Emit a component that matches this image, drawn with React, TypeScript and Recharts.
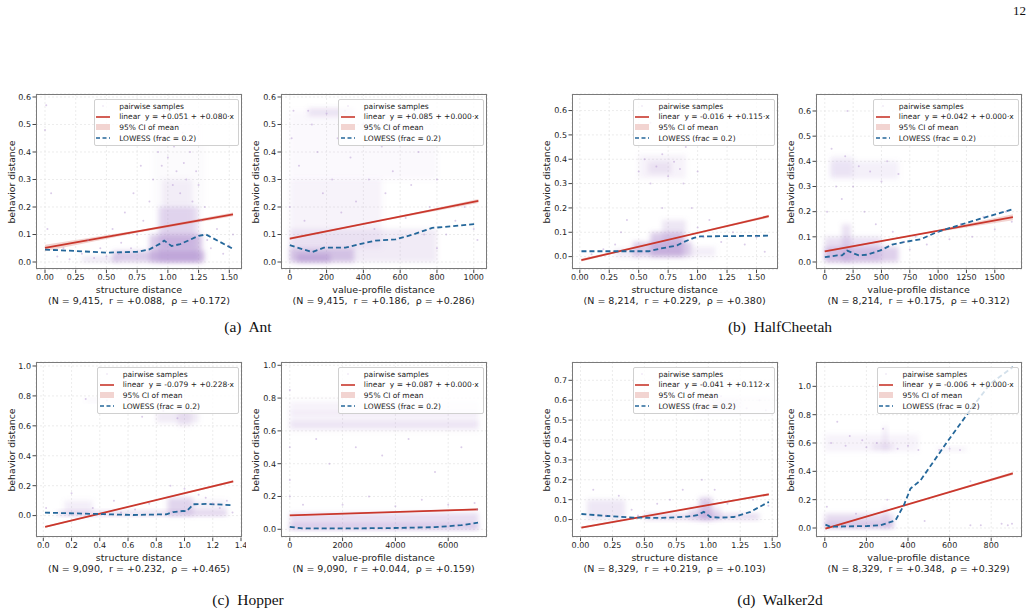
import React from 'react';
import { ComposedChart, Scatter, Line, Area, XAxis, YAxis, CartesianGrid, ReferenceArea } from 'recharts';

type Pt = [number, number];
type Band = [number, number, number];
type Blk = [number, number, number, number, number];

// ---------- (a) Ant : structure distance ----------
const antSX = [0, 0.25, 0.5, 0.75, 1.0, 1.25, 1.5];
const antSY = [0, 0.1, 0.2, 0.3, 0.4, 0.5, 0.6];
const antSFit: Pt[] = [[0, 0.051], [1.53, 0.173]];
const antSCI: Band[] = [[0, 0.039, 0.063], [0.77, 0.108, 0.116], [1.53, 0.166, 0.18]];
const antSLowess: Pt[] = [[0, 0.045], [0.25, 0.04], [0.5, 0.034], [0.75, 0.037], [0.85, 0.046], [0.93, 0.065], [0.97, 0.078], [1.03, 0.058], [1.1, 0.065], [1.25, 0.095], [1.31, 0.1], [1.53, 0.048]];
const antSDense: Blk[] = [[0.55, 1.3, 0, 0.04, 0.3], [0.85, 1.28, 0, 0.1, 0.3], [0.92, 1.25, 0, 0.2, 0.2], [0.95, 1.2, 0.05, 0.3, 0.08], [0.3, 0.6, 0, 0.02, 0.15], [0.88, 1.3, 0.2, 0.55, 0.025]];
const antSSamples: Pt[] = [[0.0, 0.48], [0.01, 0.57], [0.02, 0.12], [0.05, 0.25], [0.1, 0.02], [0.15, 0.05], [0.2, 0.01], [0.3, 0.03], [0.35, 0.08], [0.4, 0.015], [0.45, 0.05], [0.5, 0.02], [0.55, 0.12], [0.6, 0.03], [0.62, 0.07], [0.65, 0.18], [0.7, 0.05], [0.72, 0.25], [0.75, 0.1], [0.78, 0.35], [0.8, 0.15], [0.82, 0.45], [0.85, 0.22], [0.88, 0.3], [0.9, 0.52], [0.92, 0.4], [0.95, 0.35], [0.97, 0.55], [0.98, 0.45], [1.0, 0.38], [1.02, 0.5], [1.04, 0.28], [1.05, 0.42], [1.07, 0.33], [1.08, 0.55], [1.1, 0.25], [1.12, 0.47], [1.13, 0.36], [1.15, 0.3], [1.17, 0.52], [1.18, 0.4], [1.2, 0.22], [1.22, 0.45], [1.23, 0.33], [1.25, 0.28], [1.27, 0.15], [1.3, 0.2], [1.32, 0.08], [1.35, 0.05], [1.4, 0.12], [1.45, 0.03], [1.5, 0.06], [1.53, 0.1]];

// ---------- (a) Ant : value-profile distance ----------
const antVX = [0, 200, 400, 600, 800, 1000];
const antVY = [0, 0.1, 0.2, 0.3, 0.4, 0.5, 0.6];
const antVFit: Pt[] = [[0, 0.085], [1025, 0.222]];
const antVCI: Band[] = [[0, 0.081, 0.089], [510, 0.15, 0.155], [1025, 0.215, 0.229]];
const antVLowess: Pt[] = [[0, 0.061], [121, 0.036], [185, 0.052], [302, 0.052], [393, 0.067], [466, 0.078], [574, 0.082], [665, 0.099], [774, 0.124], [828, 0.127], [1018, 0.139]];
const antVDense: Blk[] = [[0, 350, 0, 0.05, 0.3], [40, 220, 0, 0.03, 0.35], [0, 800, 0, 0.12, 0.12], [0, 500, 0.05, 0.3, 0.07], [100, 350, 0.53, 0.56, 0.15], [0, 800, 0.3, 0.55, 0.035]];
const antVSamples: Pt[] = [[0, 0.2], [10, 0.45], [20, 0.55], [50, 0.35], [80, 0.15], [100, 0.55], [120, 0.5], [150, 0.4], [180, 0.25], [200, 0.54], [230, 0.3], [260, 0.45], [280, 0.18], [300, 0.55], [330, 0.38], [360, 0.22], [400, 0.5], [430, 0.3], [460, 0.12], [500, 0.42], [520, 0.25], [560, 0.33], [600, 0.5], [630, 0.16], [660, 0.28], [700, 0.4], [730, 0.1], [760, 0.2], [800, 0.05], [800, 0.3], [850, 0.1], [900, 0.15], [950, 0.2], [1000, 0.12], [1020, 0.08]];

// ---------- (b) HalfCheetah : structure distance ----------
const hcSX = [0, 0.25, 0.5, 0.75, 1.0, 1.25, 1.5];
const hcSY = [0, 0.1, 0.2, 0.3, 0.4, 0.5, 0.6];
const hcSFit: Pt[] = [[0.013, -0.0145], [1.604, 0.166]];
const hcSCI: Band[] = [[0.013, -0.02, -0.009], [0.8, 0.074, 0.078], [1.604, 0.16, 0.172]];
const hcSLowess: Pt[] = [[0.014, 0.022], [0.317, 0.022], [0.586, 0.022], [0.685, 0.033], [0.826, 0.046], [0.883, 0.06], [0.968, 0.077], [1.025, 0.083], [1.605, 0.086]];
const hcSDense: Blk[] = [[0.45, 0.95, 0, 0.06, 0.3], [0.6, 0.88, 0, 0.1, 0.3], [0.7, 0.9, 0.05, 0.15, 0.15], [0.3, 0.5, 0, 0.03, 0.15], [0.5, 0.9, 0.32, 0.42, 0.07], [0.58, 0.78, 0.34, 0.39, 0.12], [0.95, 1.15, 0, 0.04, 0.1]];
const hcSSamples: Pt[] = [[0.1, 0.01], [0.2, 0.03], [0.3, 0.05], [0.35, 0.1], [0.4, 0.15], [0.5, 0.35], [0.55, 0.4], [0.6, 0.3], [0.65, 0.37], [0.7, 0.42], [0.75, 0.33], [0.8, 0.39], [0.85, 0.36], [0.9, 0.45], [0.95, 0.2], [1.0, 0.12], [1.05, 0.08], [1.1, 0.15], [1.2, 0.06], [1.3, 0.1], [1.4, 0.05], [1.5, 0.08], [1.57, 0.02], [0.88, 0.3], [1.0, 0.35], [0.6, 0.55], [0.7, 0.2]];

// ---------- (b) HalfCheetah : value-profile distance ----------
const hcVX = [0, 250, 500, 750, 1000, 1250, 1500];
const hcVY = [0, 0.1, 0.2, 0.3, 0.4, 0.5, 0.6];
const hcVFit: Pt[] = [[0, 0.042], [1660, 0.178]];
const hcVCI: Band[] = [[0, 0.038, 0.046], [830, 0.108, 0.112], [1660, 0.166, 0.19]];
const hcVLowess: Pt[] = [[0, 0.019], [109, 0.026], [153, 0.026], [197, 0.045], [300, 0.026], [374, 0.029], [491, 0.046], [594, 0.069], [697, 0.079], [844, 0.09], [991, 0.119], [1197, 0.148], [1374, 0.172], [1653, 0.209]];
const hcVDense: Blk[] = [[0, 650, 0, 0.06, 0.28], [0, 500, 0, 0.1, 0.18], [150, 230, 0, 0.15, 0.18], [50, 650, 0.33, 0.4, 0.09], [50, 250, 0.34, 0.42, 0.09]];
const hcVSamples: Pt[] = [[20, 0.2], [60, 0.45], [100, 0.3], [150, 0.25], [180, 0.42], [200, 0.6], [250, 0.3], [300, 0.38], [350, 0.2], [400, 0.36], [450, 0.15], [500, 0.32], [550, 0.4], [600, 0.12], [650, 0.35], [700, 0.08], [750, 0.05], [800, 0.1], [900, 0.07], [1000, 0.12], [1100, 0.09], [1200, 0.15], [1300, 0.1], [1400, 0.18], [1500, 0.13], [1600, 0.2], [1650, 0.16]];

// ---------- (c) Hopper : structure distance ----------
const hoSX = [0, 0.2, 0.4, 0.6, 0.8, 1.0, 1.2, 1.4];
const hoSY = [0, 0.2, 0.4, 0.6, 0.8, 1.0];
const hoSFit: Pt[] = [[0.013, -0.076], [1.345, 0.229]];
const hoSCI: Band[] = [[0.013, -0.082, -0.07], [0.68, 0.074, 0.079], [1.345, 0.221, 0.237]];
const hoSLowess: Pt[] = [[0.012, 0.02], [0.378, 0.011], [0.637, 0.004], [0.873, 0.009], [0.92, 0.024], [0.99, 0.031], [1.015, 0.029], [1.062, 0.076], [1.157, 0.078], [1.341, 0.07]];
const hoSDense: Blk[] = [[0.1, 1.3, 0, 0.03, 0.22], [0.88, 1.06, 0, 0.12, 0.25], [0.15, 0.35, 0, 0.1, 0.1], [1.05, 1.3, 0, 0.1, 0.1], [0.8, 1.1, 0.62, 0.7, 0.12], [0.95, 1.05, 0.6, 0.72, 0.12], [0.3, 0.9, 0.76, 0.78, 0.06]];
const hoSSamples: Pt[] = [[0.02, 0.05], [0.2, 0.15], [0.3, 0.78], [0.35, 0.05], [0.45, 0.77], [0.5, 0.1], [0.6, 0.77], [0.7, 0.66], [0.75, 0.08], [0.85, 0.7], [0.9, 0.2], [0.95, 0.65], [1.0, 0.18], [1.05, 0.7], [1.1, 0.14], [1.15, 0.12], [1.2, 0.08], [1.25, 0.05], [1.3, 0.1], [1.34, 0.02], [0.55, 0.02], [0.65, 0.04]];

// ---------- (c) Hopper : value-profile distance ----------
const hoVX = [0, 2000, 4000, 6000];
const hoVY = [0, 0.2, 0.4, 0.6, 0.8, 1.0];
const hoVFit: Pt[] = [[0, 0.085], [7130, 0.121]];
const hoVCI: Band[] = [[0, 0.081, 0.089], [3560, 0.101, 0.105], [7130, 0.115, 0.127]];
const hoVLowess: Pt[] = [[0, 0.015], [500, 0.005], [2000, 0.005], [4000, 0.008], [5500, 0.013], [6500, 0.025], [7130, 0.04]];
const hoVDense: Blk[] = [[0, 7150, 0, 0.1, 0.2], [0, 7150, 0, 0.03, 0.22], [0, 7150, 0.6, 0.78, 0.07], [0, 7150, 0.62, 0.66, 0.1], [0, 7150, 0.7, 0.72, 0.07]];
const hoVSamples: Pt[] = [[0, 0.85], [0, 0.5], [0, 0.3], [0, 0.2], [500, 0.15], [1000, 0.55], [1500, 0.4], [2000, 0.15], [2500, 0.5], [3000, 0.2], [3500, 0.45], [4000, 0.14], [4500, 0.55], [5000, 0.18], [5500, 0.35], [6000, 0.15], [6500, 0.5], [7000, 0.16], [7100, 0.12]];

// ---------- (d) Walker2d : structure distance ----------
const wkSX = [0, 0.25, 0.5, 0.75, 1.0, 1.25, 1.5];
const wkSY = [0, 0.1, 0.2, 0.3, 0.4, 0.5, 0.6, 0.7];
const wkSFit: Pt[] = [[0.007, -0.04], [1.474, 0.127]];
const wkSCI: Band[] = [[0.007, -0.045, -0.035], [0.74, 0.042, 0.045], [1.474, 0.121, 0.133]];
const wkSLowess: Pt[] = [[0.007, 0.028], [0.209, 0.018], [0.417, 0.01], [0.626, 0.008], [0.835, 0.015], [0.913, 0.022], [0.965, 0.039], [1.017, 0.013], [1.096, 0.01], [1.2, 0.013], [1.33, 0.039], [1.474, 0.089]];
const wkSDense: Blk[] = [[0.05, 0.35, 0, 0.1, 0.14], [0.5, 1.4, 0, 0.03, 0.22], [0.93, 1.03, 0, 0.11, 0.3], [0.85, 1.1, 0, 0.06, 0.18], [0.9, 1.5, 0.54, 0.62, 0.07], [1.0, 1.25, 0.55, 0.6, 0.09]];
const wkSSamples: Pt[] = [[0.1, 0.15], [0.2, 0.02], [0.3, 0.12], [0.4, 0.05], [0.45, 0.02], [0.6, 0.08], [0.7, 0.1], [0.8, 0.15], [0.9, 0.6], [0.95, 0.2], [1.0, 0.56], [1.05, 0.15], [1.1, 0.62], [1.15, 0.08], [1.2, 0.58], [1.3, 0.56], [1.35, 0.1], [1.4, 0.6], [1.45, 0.55], [1.47, 0.07]];

// ---------- (d) Walker2d : value-profile distance ----------
const wkVX = [0, 200, 400, 600, 800];
const wkVY = [0, 0.2, 0.4, 0.6, 0.8, 1.0];
const wkVFit: Pt[] = [[3, -0.005], [904, 0.385]];
const wkVCI: Band[] = [[3, -0.01, 0], [450, 0.188, 0.194], [904, 0.375, 0.395]];
const wkVLowess: Pt[] = [[3, 0.024], [27, 0.009], [204, 0.014], [268, 0.019], [340, 0.054], [380, 0.16], [412, 0.278], [460, 0.336], [588, 0.607], [716, 0.866], [796, 1.019], [904, 1.136]];
const wkVDense: Blk[] = [[0, 330, 0, 0.1, 0.22], [0, 330, 0, 0.04, 0.22], [280, 300, 0, 0.15, 0.12], [0, 450, 0.54, 0.66, 0.07], [230, 330, 0.55, 0.6, 0.12], [540, 680, 0.54, 0.57, 0.08], [280, 300, 0.55, 0.72, 0.12]];
const wkVSamples: Pt[] = [[10, 0.15], [30, 0.6], [60, 0.75], [100, 0.58], [120, 0.65], [150, 0.1], [180, 0.62], [200, 0.57], [250, 0.6], [280, 0.7], [300, 0.2], [350, 0.56], [400, 0.58], [450, 0.55], [480, 0.05], [550, 0.55], [600, 0.56], [650, 0.55], [700, 0.02], [850, 0.03], [880, 0.02], [900, 0.03], [700, 0.33], [750, 0.02]];

const captions = ['(a)  Ant', '(b)  HalfCheetah', '(c)  Hopper', '(d)  Walker2d'];

const RED = '#c9372c';
const BLUE = '#24679a';
const PURPLE = '#b08fcf';
const SANS = '"DejaVu Sans", sans-serif';

interface PanelDef {
  L: number; T: number; R: number; B: number;
  xDom: [number, number]; yDom: [number, number];
  xTicks: number[]; yTicks: number[]; xDec: number; yDec: number;
  xLabel: string; stats: string; fitLabel: string;
  fit: Pt[]; ci: Band[]; lowess: Pt[]; dense: Blk[]; samples: Pt[];
}

const TOP_T = 93.7, TOP_B = 269.3, BOT_T = 361.7, BOT_B = 537.3;

const panels: PanelDef[] = [
  { L: 36, T: TOP_T, R: 242, B: TOP_B, xDom: [-0.0733, 1.6033], yDom: [-0.0276, 0.6109], xTicks: antSX, yTicks: antSY, xDec: 2, yDec: 1,
    xLabel: 'structure distance', stats: '(N = 9,415,  r = +0.088,  ρ = +0.172)', fitLabel: 'linear  y = +0.051 + +0.080·x',
    fit: antSFit, ci: antSCI, lowess: antSLowess, dense: antSDense, samples: antSSamples },
  { L: 280.5, T: TOP_T, R: 486.7, B: TOP_B, xDom: [-47.8, 1073], yDom: [-0.0276, 0.6109], xTicks: antVX, yTicks: antVY, xDec: 0, yDec: 1,
    xLabel: 'value-profile distance', stats: '(N = 9,415,  r = +0.186,  ρ = +0.286)', fitLabel: 'linear  y = +0.085 + +0.000·x',
    fit: antVFit, ci: antVCI, lowess: antVLowess, dense: antVDense, samples: antVSamples },
  { L: 571.5, T: TOP_T, R: 777.7, B: TOP_B, xDom: [-0.0662, 1.684], yDom: [-0.0533, 0.668], xTicks: hcSX, yTicks: hcSY, xDec: 2, yDec: 1,
    xLabel: 'structure distance', stats: '(N = 8,214,  r = +0.229,  ρ = +0.380)', fitLabel: 'linear  y = -0.016 + +0.115·x',
    fit: hcSFit, ci: hcSCI, lowess: hcSLowess, dense: hcSDense, samples: hcSSamples },
  { L: 815.5, T: TOP_T, R: 1021.7, B: TOP_B, xDom: [-77.6, 1741.8], yDom: [-0.0302, 0.6675], xTicks: hcVX, yTicks: hcVY, xDec: 0, yDec: 1,
    xLabel: 'value-profile distance', stats: '(N = 8,214,  r = +0.175,  ρ = +0.312)', fitLabel: 'linear  y = +0.042 + +0.000·x',
    fit: hcVFit, ci: hcVCI, lowess: hcVLowess, dense: hcVDense, samples: hcVSamples },
  { L: 36, T: BOT_T, R: 242, B: BOT_B, xDom: [-0.0517, 1.407], yDom: [-0.147, 1.0267], xTicks: hoSX, yTicks: hoSY, xDec: 1, yDec: 1,
    xLabel: 'structure distance', stats: '(N = 9,090,  r = +0.232,  ρ = +0.465)', fitLabel: 'linear  y = -0.079 + +0.228·x',
    fit: hoSFit, ci: hoSCI, lowess: hoSLowess, dense: hoSDense, samples: hoSSamples },
  { L: 280.5, T: BOT_T, R: 486.7, B: BOT_B, xDom: [-333, 7477], yDom: [-0.0506, 1.02], xTicks: hoVX, yTicks: hoVY, xDec: 0, yDec: 1,
    xLabel: 'value-profile distance', stats: '(N = 9,090,  r = +0.044,  ρ = +0.159)', fitLabel: 'linear  y = +0.087 + +0.000·x',
    fit: hoVFit, ci: hoVCI, lowess: hoVLowess, dense: hoVDense, samples: hoVSamples },
  { L: 571.5, T: BOT_T, R: 777.7, B: BOT_B, xDom: [-0.0665, 1.547], yDom: [-0.0905, 0.792], xTicks: wkSX, yTicks: wkSY, xDec: 2, yDec: 1,
    xLabel: 'structure distance', stats: '(N = 8,329,  r = +0.219,  ρ = +0.103)', fitLabel: 'linear  y = -0.041 + +0.112·x',
    fit: wkSFit, ci: wkSCI, lowess: wkSLowess, dense: wkSDense, samples: wkSSamples },
  { L: 815.5, T: BOT_T, R: 1021.7, B: BOT_B, xDom: [-42.3, 949], yDom: [-0.0677, 1.1718], xTicks: wkVX, yTicks: wkVY, xDec: 0, yDec: 1,
    xLabel: 'value-profile distance', stats: '(N = 8,329,  r = +0.348,  ρ = +0.329)', fitLabel: 'linear  y = -0.006 + +0.000·x',
    fit: wkVFit, ci: wkVCI, lowess: wkVLowess, dense: wkVDense, samples: wkVSamples },
];

const Dot = (props: any) => {
  const { cx, cy } = props;
  if (cx == null || cy == null) return null;
  return <circle cx={cx} cy={cy} r={1} fill={PURPLE} fillOpacity={0.45} />;
};

const Blob = (props: any) => {
  const { x, y, width, height, fillOpacity } = props;
  if (x == null || y == null) return null;
  return <rect x={x} y={y} width={width} height={height} fill={PURPLE} fillOpacity={fillOpacity} filter="url(#blobBlur)" />;
};

function Panel({ p }: { p: PanelDef }) {
  const padL = 32, padT = 4, padR = 4, padB = 16;
  const w = p.R - p.L, h = p.B - p.T;
  const fitData = p.fit.map(([x, y]) => ({ x, y }));
  const lowData = p.lowess.map(([x, y]) => ({ x, y }));
  const ciData = p.ci.map(([x, lo, hi]) => ({ x, band: [lo, hi] }));
  const sData = p.samples.map(([x, y]) => ({ x, y }));
  const tickStyle = { fontSize: 8, fill: '#222', fontFamily: SANS };
  return (
    <>
      <div style={{ position: 'absolute', left: p.L - padL, top: p.T - padT }}>
        <ComposedChart width={w + padL + padR} height={h + padT + padB} margin={{ top: padT, right: padR, left: 0, bottom: 0 }}>
          <CartesianGrid stroke="#e4e4e4" strokeDasharray="2 2" strokeWidth={0.7} />
          <XAxis type="number" dataKey="x" domain={p.xDom} ticks={p.xTicks} allowDataOverflow height={padB}
            tickFormatter={(v: number) => v.toFixed(p.xDec)} tick={tickStyle} tickSize={3.5} tickMargin={1}
            axisLine={false} tickLine={{ stroke: '#444' }} interval={0} />
          <YAxis type="number" domain={p.yDom} ticks={p.yTicks} allowDataOverflow width={padL}
            tickFormatter={(v: number) => v.toFixed(p.yDec)} tick={tickStyle} tickSize={3.5} tickMargin={1.5}
            axisLine={false} tickLine={{ stroke: '#444' }} interval={0} />
          {p.dense.map((d, i) => (
            <ReferenceArea key={i} x1={d[0]} x2={d[1]} y1={d[2]} y2={d[3]} fill={PURPLE} fillOpacity={Math.min(0.6, d[4] * 1.5)} stroke="none" ifOverflow="hidden" shape={<Blob />} />
          ))}
          <Scatter data={sData} dataKey="y" shape={<Dot />} isAnimationActive={false} />
          <Area data={ciData} dataKey="band" type="linear" stroke="none" fill="#e8a9a3" fillOpacity={0.5} isAnimationActive={false} dot={false} activeDot={false} />
          <Line data={fitData} dataKey="y" type="linear" stroke={RED} strokeWidth={1.8} dot={false} activeDot={false} isAnimationActive={false} />
          <Line data={lowData} dataKey="y" type="linear" stroke={BLUE} strokeWidth={1.8} strokeDasharray="5 3" dot={false} activeDot={false} isAnimationActive={false} />
        </ComposedChart>
      </div>
      <div style={{ position: 'absolute', left: p.L, top: p.T, width: w, height: h, border: '1px solid #7a7a7a', boxSizing: 'border-box', pointerEvents: 'none' }} />
      <div style={{ position: 'absolute', left: p.L - 25.5, top: (p.T + p.B) / 2, transform: 'translate(-50%, -50%) rotate(-90deg)', fontSize: 9.3, fontFamily: SANS, color: '#222', whiteSpace: 'nowrap' }}>behavior distance</div>
      <div style={{ position: 'absolute', left: (p.L + p.R) / 2, top: p.B + 19.5, transform: 'translate(-50%, -50%)', fontSize: 9.5, fontFamily: SANS, color: '#222', whiteSpace: 'nowrap' }}>{p.xLabel}</div>
      <div style={{ position: 'absolute', left: (p.L + p.R) / 2, top: p.B + 31, transform: 'translate(-50%, -50%)', fontSize: 9.5, fontFamily: SANS, color: '#222', whiteSpace: 'pre' }}>{p.stats}</div>
      <div style={{ position: 'absolute', right: 1034 - (p.R - 3), top: p.T + 5.5, border: '1px solid #d0d0d0', borderRadius: 2, background: 'rgba(255,255,255,0.8)', padding: '0.5px 4px 1.5px 1.5px', fontFamily: SANS, fontSize: 7.5, color: '#222' }}>
        {[
          { kind: 'dot', label: 'pairwise samples' },
          { kind: 'red', label: p.fitLabel },
          { kind: 'ci', label: '95% CI of mean' },
          { kind: 'blue', label: 'LOWESS (frac = 0.2)' },
        ].map((r, i) => (
          <div key={i} style={{ display: 'flex', alignItems: 'center', height: 10.7, whiteSpace: 'pre' }}>
            <svg width={14} height={8} style={{ marginRight: 9, flex: 'none' }}>
              {r.kind === 'red' && <line x1={0} y1={4} x2={14} y2={4} stroke={RED} strokeWidth={1.6} />}
              {r.kind === 'blue' && <line x1={0} y1={4} x2={14} y2={4} stroke={BLUE} strokeWidth={1.6} strokeDasharray="4 2.5" />}
              {r.kind === 'ci' && <rect x={0} y={1} width={14} height={6} fill="#f2d4d1" />}
              {r.kind === 'dot' && <circle cx={7} cy={4} r={0.8} fill={PURPLE} fillOpacity={0.3} />}
            </svg>
            <span>{r.label}</span>
          </div>
        ))}
      </div>
    </>
  );
}

export default function App() {
  return (
    <div style={{ position: 'absolute', left: 0, top: 0, width: 1034, height: 612, background: '#fff', overflow: 'hidden' }}>
      <svg width={0} height={0} style={{ position: 'absolute' }}>
        <defs>
          <filter id="blobBlur" x="-50%" y="-50%" width="200%" height="200%">
            <feGaussianBlur stdDeviation="2.5" />
          </filter>
        </defs>
      </svg>
      <div style={{ position: 'absolute', right: 8, top: 3, fontFamily: '"Liberation Serif", serif', fontSize: 13, color: '#111' }}>12</div>
      {panels.map((p, i) => <Panel key={i} p={p} />)}
      {captions.map((c, i) => (
        <div key={i} style={{ position: 'absolute', left: i % 2 === 0 ? 248 : 780, top: i < 2 ? 327 : 600, transform: 'translate(-50%, -50%)', fontFamily: '"Liberation Serif", serif', fontSize: 15.5, color: '#111', whiteSpace: 'pre' }}>{c}</div>
      ))}
    </div>
  );
}
